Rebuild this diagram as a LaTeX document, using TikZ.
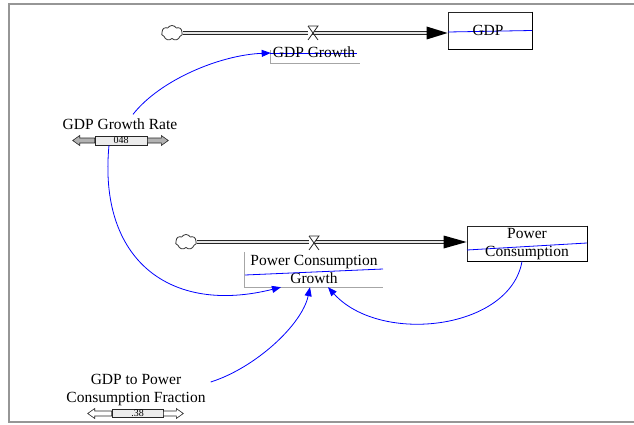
\documentclass[tikz,border=0pt]{standalone}
\usepackage{fontspec}
\setmainfont{Liberation Serif}
\usetikzlibrary{arrows.meta,shapes.symbols}
\definecolor{vblue}{RGB}{0,0,255}
\definecolor{framegray}{RGB}{150,150,150}
\begin{document}
\begin{tikzpicture}[x=1pt,y=-1pt,
  lbl/.style={inner sep=0pt, font=\fontsize{15.5}{18}\selectfont, align=center},
  stock/.style={draw=black!85, line width=0.8pt, fill=white, inner sep=0pt, font=\fontsize{15.5}{18}\selectfont, align=center},
  stockshade/.style={draw=black, line width=1.6pt},
  srccloud/.style={cloud, cloud puffs=7, cloud puff arc=120, aspect=1.4, draw=black!80, line width=0.8pt, inner sep=0pt, minimum width=21pt, minimum height=15pt},
  pipeouter/.style={draw=black!85, line width=4.5pt},
  pipeinner/.style={draw=gray!20, line width=1.5pt},
  valveline/.style={draw=black!85, line width=0.8pt, fill=white},
  link/.style={draw=vblue, line width=0.8pt, -{Triangle[length=9pt,width=7pt]}},
  strike/.style={draw=vblue, line width=0.8pt},
  underbox/.style={draw=gray!70, line width=0.7pt},
  sliderbox/.style={draw=black!85, line width=0.6pt, fill=gray!15, inner sep=0pt, font=\fontsize{10}{10}\selectfont},
  sliderarrow/.style={draw=black!85, line width=0.6pt}
]
\useasboundingbox (0,0) rectangle (634,425);
% frame
\draw[framegray, line width=1.3pt] (640,4) -- (9,4) -- (9,422) -- (640,422);

% ---------- GDP stock and flow ----------
\node[stock, minimum width=84pt, minimum height=37pt] (gdp) at (490,30.5) {};
\draw[stockshade] (gdp.north east) -- (gdp.south east) -- (gdp.south west);
\draw[strike] (448,32) -- (532,30.5);
\node[lbl] (gdptxt) at (488,30) {GDP};

\node[srccloud] (cloud1) at (172,33) {};
\coordinate (t1) at (cloud1.east -| gdp.west);
\draw[pipeouter] (cloud1.east) -- ([xshift=-20pt]t1);
\draw[pipeinner] (cloud1.east) -- ([xshift=-20pt]t1);
\fill[black] (t1) -- ++(-21,-6.5) -- ++(0,13) -- cycle;
\coordinate (v1) at (313,33);
\filldraw[valveline] ([shift={(-5,-7)}]v1) -- ([shift={(5,-7)}]v1) -- ([shift={(-5,7)}]v1);
\draw[valveline] ([shift={(-5,-7)}]v1) -- ([shift={(5,7)}]v1);

\draw[underbox] (270,50) -- (270,63) -- (360,63);
\draw[strike] (270,53.3) -- (357,53.3);
\node[lbl] (gdpg) at (314,52) {GDP Growth};

% ---------- Power consumption stock and flow ----------
\node[stock, minimum width=120pt, minimum height=35pt] (pc) at (527,243.5) {};
\draw[stockshade] (pc.north east) -- (pc.south east) -- (pc.south west);
\draw[strike] (467,250) -- (587,243);
\node[lbl] (pctxt) at (527,244) {Power\\Consumption};

\node[srccloud] (cloud2) at (186,242) {};
\coordinate (t2) at (cloud2.east -| pc.west);
\draw[pipeouter] (cloud2.east) -- ([xshift=-20pt]t2);
\draw[pipeinner] (cloud2.east) -- ([xshift=-20pt]t2);
\fill[black] (t2) -- ++(-23,-6.5) -- ++(0,13) -- cycle;
\coordinate (v2) at (314,243);
\filldraw[valveline] ([shift={(-5,-7)}]v2) -- ([shift={(5,-7)}]v2) -- ([shift={(-5,7)}]v2);
\draw[valveline] ([shift={(-5,-7)}]v2) -- ([shift={(5,7)}]v2);

\node[lbl, minimum width=138pt, minimum height=35pt] (pcg) at (314,269.5) {Power Consumption\\Growth};
\draw[underbox] (pcg.north west) -- (pcg.south west) -- (pcg.south east);
\draw[strike] (245,275) -- (383,269);

% ---------- GDP Growth Rate ----------
\node[lbl] (rate) at (120,124) {GDP Growth Rate};
\node[sliderbox, minimum width=52pt, minimum height=9pt] (s1) at (121,140.5) {048};
\filldraw[sliderarrow, fill=gray!60] (s1.west) ++(0,-2.5) -- ++(-15,0) -- ++(0,-2.5) -- ++(-7,5) -- ++(7,5) -- ++(0,-2.5) -- ++(15,0) -- cycle;
\filldraw[sliderarrow, fill=gray!60] (s1.east) ++(0,-2.5) -- ++(14,0) -- ++(0,-2.5) -- ++(7,5) -- ++(-7,5) -- ++(0,-2.5) -- ++(-14,0) -- cycle;

% ---------- GDP to Power Consumption Fraction ----------
\node[lbl, font=\fontsize{15.5}{17.5}\selectfont] (frac) at (136,390) {GDP to Power\\Consumption Fraction};
\node[sliderbox, minimum width=51pt, minimum height=8pt] (s2) at (137.5,413.5) {.38};
\filldraw[sliderarrow, fill=white] (s2.west) ++(0,-2.5) -- ++(-17,0) -- ++(0,-2.5) -- ++(-7,5) -- ++(7,5) -- ++(0,-2.5) -- ++(17,0) -- cycle;
\filldraw[sliderarrow, fill=white] (s2.east) ++(0,-2.5) -- ++(13,0) -- ++(0,-2.5) -- ++(7,5) -- ++(-7,5) -- ++(0,-2.5) -- ++(-13,0) -- cycle;

% ---------- links ----------
\draw[link] ([xshift=13pt,yshift=4pt]rate.north) .. controls (160,80) and (220,55) .. ([xshift=-2pt,yshift=-1pt]gdpg.west);
\draw[link] ([xshift=-12pt]s1.south) .. controls (98,260) and (170,315) .. ([xshift=-33pt]pcg.south);
\draw[link] ([xshift=5pt,yshift=8pt]frac.east) .. controls (255,368) and (302,325) .. ([xshift=-4pt]pcg.south);
\draw[link] ([xshift=-5pt]pc.south) .. controls (510,330) and (380,345) .. ([xshift=14pt]pcg.south);
\end{tikzpicture}
\end{document}
